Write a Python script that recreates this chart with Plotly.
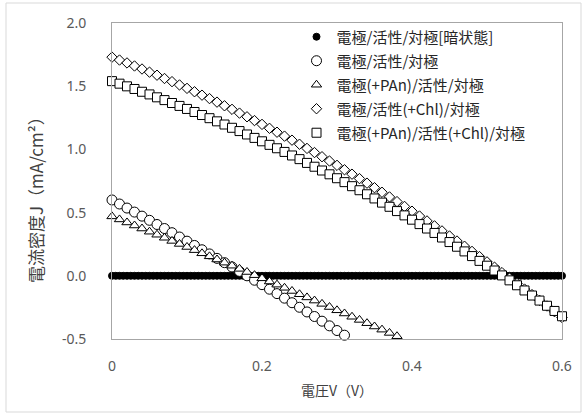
import plotly.graph_objects as go

# ---- data ----
# voltage sweeps (V)
v_dark = [round(i * 0.005, 3) for i in range(121)]          # 0 .. 0.6
v_main = [round(i * 0.01, 2) for i in range(61)]            # 0 .. 0.6
v_circle = v_main[:32]                                      # 0 .. 0.31
v_tri = v_main[:40]                                         # 0 .. 0.39

# current density (mA/cm2)
j_dark = [0.0] * 121

j_circle = [0.600, 0.568, 0.536, 0.504, 0.472, 0.439, 0.406, 0.374, 0.341, 0.307,
            0.274, 0.240, 0.206, 0.173, 0.138, 0.104, 0.070, 0.035, 0.000, -0.035,
            -0.070, -0.106, -0.141, -0.177, -0.213, -0.249, -0.286, -0.322, -0.359, -0.396,
            -0.433, -0.470]

j_tri = [0.470, 0.446, 0.422, 0.398, 0.374, 0.349, 0.325, 0.301, 0.276, 0.252,
         0.228, 0.203, 0.178, 0.154, 0.129, 0.104, 0.080, 0.055, 0.030, 0.005,
         -0.020, -0.045, -0.070, -0.095, -0.120, -0.146, -0.171, -0.196, -0.222, -0.247,
         -0.273, -0.298, -0.324, -0.349, -0.375, -0.401, -0.426, -0.452, -0.478, -0.504]

j_diamond = [1.730, 1.707, 1.684, 1.660, 1.636, 1.611, 1.587, 1.561, 1.536, 1.510,
             1.483, 1.456, 1.429, 1.402, 1.374, 1.345, 1.317, 1.287, 1.258, 1.228,
             1.198, 1.167, 1.136, 1.105, 1.073, 1.041, 1.008, 0.975, 0.942, 0.908,
             0.874, 0.839, 0.804, 0.769, 0.733, 0.697, 0.661, 0.624, 0.587, 0.549,
             0.511, 0.473, 0.434, 0.395, 0.355, 0.315, 0.275, 0.234, 0.193, 0.152,
             0.110, 0.068, 0.025, -0.018, -0.061, -0.105, -0.149, -0.194, -0.239, -0.284,
             -0.330]

j_square = [1.540, 1.520, 1.499, 1.478, 1.456, 1.435, 1.412, 1.390, 1.367, 1.344,
            1.320, 1.296, 1.272, 1.247, 1.222, 1.197, 1.171, 1.145, 1.118, 1.091,
            1.064, 1.036, 1.009, 0.980, 0.952, 0.923, 0.893, 0.863, 0.833, 0.803,
            0.772, 0.741, 0.709, 0.677, 0.645, 0.612, 0.579, 0.546, 0.512, 0.478,
            0.444, 0.409, 0.374, 0.339, 0.303, 0.267, 0.230, 0.193, 0.156, 0.118,
            0.080, 0.042, 0.003, -0.036, -0.075, -0.116, -0.156, -0.196, -0.237, -0.278,
            -0.320]

names = ["電極/活性/対極[暗状態]", "電極/活性/対極", "電極(+PAn)/活性/対極",
         "電極/活性(+Chl)/対極", "電極(+PAn)/活性(+Chl)/対極"]

x_ticks = [0, 0.2, 0.4, 0.6]
x_tick_text = ["0", "0.2", "0.4", "0.6"]
y_ticks = [-0.5, 0.0, 0.5, 1.0, 1.5, 2.0]
y_tick_text = ["-0.5", "0.0", "0.5", "1.0", "1.5", "2.0"]

CJK = "Noto Sans CJK JP"

fig = go.Figure()

series = [
    (v_dark, j_dark, names[0], "circle", 7, "black"),
    (v_circle, j_circle, names[1], "circle", 10, "white"),
    (v_tri, j_tri, names[2], "triangle-up", 9, "white"),
    (v_main, j_diamond, names[3], "diamond", 8, "white"),
    (v_main, j_square, names[4], "square", 9, "white"),
]
for i, (xs, ys, nm, sym, sz, fill) in enumerate(series):
    fig.add_trace(go.Scatter(
        x=xs, y=ys, name=nm, mode="markers", cliponaxis=False,
        legendgroup=f"g{i}",
        marker=dict(symbol=sym, size=sz, color=fill,
                    line=dict(color="black", width=1)),
    ))

fig.update_layout(
    width=587, height=420,
    margin=dict(l=112, r=25, t=23, b=81),
    paper_bgcolor="white", plot_bgcolor="white",
    font=dict(family=CJK, size=14, color="#404040"),
    showlegend=True,
    legend=dict(x=0.41, y=1.008, xanchor="left", yanchor="top",
                bgcolor="rgba(255,255,255,0)", tracegroupgap=1.5,
                font=dict(family=CJK, size=15, color="#262626"),
                itemsizing="trace"),
    xaxis=dict(range=[0, 0.6], tickvals=x_ticks, ticktext=x_tick_text,
               showgrid=False, zeroline=False, showline=True, mirror=True,
               linecolor="#a6a6a6", linewidth=1, ticks="", automargin=False,
               ticklabelstandoff=14,
               tickfont=dict(family="Noto Sans", size=14, color="#595959"),
               title=dict(text="電圧V（V）", standoff=12,
                          font=dict(family=CJK, size=14, color="#404040"))),
    yaxis=dict(range=[-0.5, 2.0], tickvals=y_ticks, ticktext=y_tick_text,
               showgrid=False, zeroline=False, showline=True, mirror=True,
               linecolor="#a6a6a6", linewidth=1, ticks="", automargin=False,
               ticklabelstandoff=22,
               tickfont=dict(family="Noto Sans", size=14, color="#595959")),
    annotations=[dict(text="電流密度J（mA/cm²）", textangle=-90, showarrow=False,
                      xref="paper", yref="paper",
                      x=(35 - 112) / 450, y=(339 - 196) / 316,
                      xanchor="center", yanchor="middle",
                      font=dict(family=CJK, size=17, color="#404040"))],
    shapes=[dict(type="rect", xref="paper", yref="paper",
                 x0=(6 - 112) / 450, x1=(581 - 112) / 450,
                 y0=(339 - 412) / 316, y1=(339 - 3) / 316,
                 line=dict(color="#d9d9d9", width=1), fillcolor="rgba(0,0,0,0)",
                 layer="below")],
)

fig.write_html("out.html", config={"displayModeBar": False},
               post_script="document.body.style.margin='0';document.body.style.padding='0';")
